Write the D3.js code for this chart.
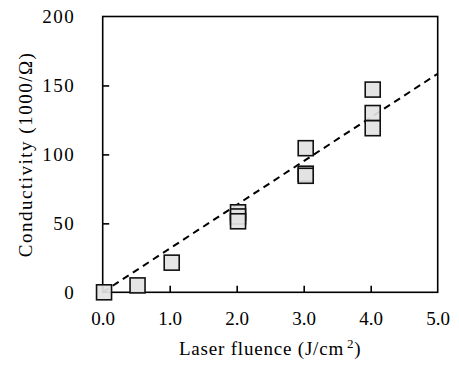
<!DOCTYPE html>
<html>
<head>
<meta charset="utf-8">
<script src="https://cdn.jsdelivr.net/npm/d3@7"></script>
<style>
  body { margin: 0; background: #fff; }
  text { font-family: "Liberation Serif", "Times New Roman", serif; fill: #000; }
</style>
</head>
<body>
<div id="chart"></div>
<script>
// measured points (laser fluence J/cm2, conductivity 1000/ohm)
var fluence = [0.02, 0.52, 1.03, 2.02, 2.02, 2.02, 3.03, 3.03, 3.03, 4.03, 4.03, 4.03];
var conductivity = [0, 5, 21.5, 58, 55, 51.5, 104.5, 86, 84.5, 147, 130, 119];

// linear fit drawn as dashed line
var fitX = [0, 5];
var fitSlope = 31.7;

var xTicks = [0, 1, 2, 3, 4, 5];
var yTicks = [0, 50, 100, 150, 200];

var
width = 459,
height = 367,
pLeft = 102.7,
pRight = 437.7,
pTop = 16.5,
pBottom = 292.3,
sq = 15,
tick = 6.5
;

var svg = d3.select('#chart').append('svg').attr('width', width).attr('height', height);

var x = d3.scaleLinear().domain([0, 5]).range([pLeft, pRight]);
var y = d3.scaleLinear().domain([0, 200]).range([pBottom, pTop]);

// fit line under the markers
svg.append('line')
    .attr('x1', x(fitX[0])).attr('y1', y(fitX[0] * fitSlope))
    .attr('x2', x(fitX[1])).attr('y2', y(fitX[1] * fitSlope))
    .attr('stroke', '#000').attr('stroke-width', 2)
    .attr('stroke-dasharray', '7,5');

// frame
svg.append('rect')
    .attr('x', pLeft).attr('y', pTop)
    .attr('width', pRight - pLeft).attr('height', pBottom - pTop)
    .attr('fill', 'none').attr('stroke', '#000').attr('stroke-width', 1.6);

var xAxis = svg.append('g').attr('transform', 'translate(0,' + pBottom + ')')
    .call(d3.axisBottom(x).tickValues(xTicks).tickSizeInner(-tick).tickSizeOuter(0).tickPadding(tick + 13)
        .tickFormat(d3.format('.1f')));
var yAxis = svg.append('g').attr('transform', 'translate(' + pLeft + ',0)')
    .call(d3.axisLeft(y).tickValues(yTicks).tickSizeInner(-tick).tickSizeOuter(0).tickPadding(tick + 21));

[xAxis, yAxis].forEach(function(ax){
    ax.select('.domain').remove();
    ax.selectAll('line').attr('stroke', '#000').attr('stroke-width', 1.6);
    ax.selectAll('text').style('font-family', '"Liberation Serif", serif').style('font-size', '19px');
});
yAxis.selectAll('.tick line').filter(function(d){ return d === 0 || d === 200; }).remove();
xAxis.selectAll('.tick line').filter(function(d){ return d === 0 || d === 5; }).remove();
yAxis.selectAll('text').attr('letter-spacing', '1.5px');

// markers
svg.append('g').selectAll('rect')
    .data(fluence.map(function(f, i){ return [f, conductivity[i]]; }))
    .enter().append('rect')
    .attr('x', function(d){ return x(d[0]) - sq / 2; })
    .attr('y', function(d){ return y(d[1]) - sq / 2; })
    .attr('width', sq).attr('height', sq)
    .attr('fill', '#e3e3e3').attr('fill-opacity', 0.92)
    .attr('stroke', '#111').attr('stroke-width', 1.6);

// axis titles
var xt = svg.append('text')
    .attr('x', (pLeft + pRight) / 2).attr('y', 355)
    .attr('text-anchor', 'middle').style('font-size', '19px').attr('letter-spacing', '0.8px')
    .text('Laser fluence (J/cm');
xt.append('tspan').attr('dx', 3).attr('dy', -7).style('font-size', '13px').text('2');
xt.append('tspan').attr('dy', 7).text(')');

svg.append('text')
    .attr('transform', 'translate(32,' + ((pTop + pBottom) / 2) + ') rotate(-90)')
    .attr('text-anchor', 'middle').style('font-size', '19px').attr('letter-spacing', '1.5px')
    .text('Conductivity (1000/Ω)');
</script>
</body>
</html>
